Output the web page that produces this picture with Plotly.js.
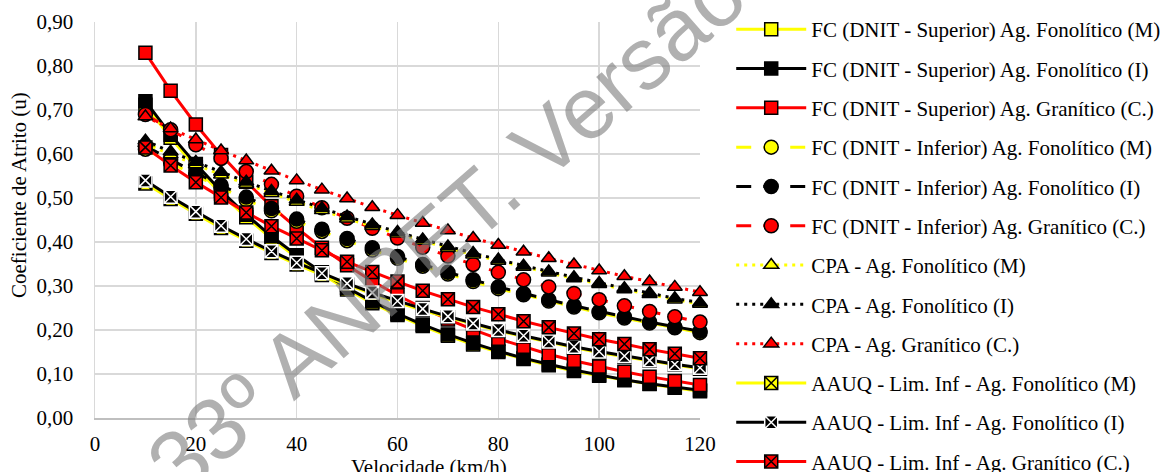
<!DOCTYPE html>
<html><head><meta charset="utf-8">
<script src="https://cdn.plot.ly/plotly-3.0.1.min.js"></script>
<style>body{margin:0;background:#fff}#chart{width:1170px;height:472px}</style>
</head><body><div id="chart"></div>
<script>
const velocidade = [10,15,20,25,30,35,40,45,50,55,60,65,70,75,80,85,90,95,100,105,110,115,120];

const supFonoM  = [0.712,0.637,0.570,0.510,0.456,0.408,0.365,0.327,0.292,0.261,0.234,0.209,0.187,0.167,0.150,0.134,0.120,0.107,0.096,0.086,0.077,0.069,0.061];
const supFonoI  = [0.720,0.644,0.577,0.516,0.462,0.413,0.370,0.331,0.296,0.265,0.237,0.212,0.190,0.170,0.152,0.136,0.122,0.109,0.098,0.087,0.078,0.070,0.063];
const supGranC  = [0.830,0.744,0.667,0.598,0.537,0.481,0.432,0.387,0.347,0.311,0.279,0.250,0.224,0.201,0.180,0.162,0.145,0.130,0.117,0.105,0.094,0.084,0.075];
const infFonoM  = [0.611,0.580,0.551,0.523,0.496,0.471,0.447,0.424,0.403,0.382,0.363,0.345,0.327,0.310,0.294,0.280,0.266,0.252,0.239,0.227,0.216,0.205,0.194];
const infFonoI  = [0.618,0.587,0.557,0.529,0.502,0.476,0.452,0.429,0.408,0.387,0.367,0.349,0.331,0.314,0.298,0.283,0.269,0.255,0.242,0.230,0.218,0.207,0.197];
const infGranC  = [0.690,0.655,0.621,0.590,0.560,0.531,0.504,0.478,0.454,0.431,0.409,0.388,0.368,0.349,0.331,0.314,0.298,0.283,0.269,0.255,0.242,0.230,0.218];
const cpaFonoM  = [0.624,0.599,0.576,0.553,0.532,0.511,0.491,0.472,0.453,0.436,0.419,0.402,0.386,0.371,0.357,0.343,0.330,0.317,0.304,0.292,0.281,0.269,0.259];
const cpaFonoI  = [0.630,0.605,0.582,0.559,0.537,0.516,0.496,0.477,0.458,0.440,0.423,0.406,0.390,0.375,0.360,0.346,0.333,0.320,0.307,0.295,0.284,0.272,0.262];
const cpaGranC  = [0.685,0.658,0.633,0.608,0.585,0.562,0.540,0.519,0.499,0.479,0.461,0.443,0.426,0.409,0.393,0.378,0.363,0.349,0.335,0.322,0.310,0.298,0.286];
const aauqFonoM = [0.533,0.498,0.464,0.432,0.403,0.375,0.349,0.325,0.303,0.282,0.263,0.245,0.229,0.213,0.198,0.185,0.172,0.160,0.149,0.139,0.130,0.121,0.112];
const aauqFonoI = [0.540,0.503,0.469,0.437,0.407,0.379,0.353,0.329,0.306,0.285,0.266,0.248,0.231,0.215,0.200,0.187,0.174,0.162,0.151,0.141,0.131,0.122,0.114];
const aauqGranC = [0.615,0.574,0.536,0.501,0.467,0.436,0.408,0.381,0.355,0.332,0.310,0.289,0.270,0.252,0.236,0.220,0.206,0.192,0.179,0.168,0.156,0.146,0.136];

const seriesNames = [
  "FC (DNIT - Superior) Ag. Fonolítico (M)",
  "FC (DNIT - Superior) Ag. Fonolítico (I)",
  "FC (DNIT - Superior) Ag. Granítico (C.)",
  "FC (DNIT - Inferior) Ag. Fonolítico (M)",
  "FC (DNIT - Inferior) Ag. Fonolítico (I)",
  "FC (DNIT - Inferior) Ag. Granítico (C.)",
  "CPA - Ag. Fonolítico (M)",
  "CPA - Ag. Fonolítico (I)",
  "CPA - Ag. Granítico (C.)",
  "AAUQ - Lim. Inf - Ag. Fonolítico (M)",
  "AAUQ - Lim. Inf - Ag. Fonolítico (I)",
  "AAUQ - Lim. Inf - Ag. Granítico (C.)"
];
const seriesValues = [supFonoM, supFonoI, supGranC, infFonoM, infFonoI, infGranC,
                      cpaFonoM, cpaFonoI, cpaGranC, aauqFonoM, aauqFonoI, aauqGranC];

const Y = '#ffff00', K = '#000000', R = '#ff0000';
const styles = [
  {c:Y, dash:'solid', sym:'square', size:13, lc:K},
  {c:K, dash:'solid', sym:'square', size:13, lc:K},
  {c:R, dash:'solid', sym:'square', size:13, lc:K},
  {c:Y, dash:'15px,12px', sym:'circle', size:14, lc:K},
  {c:K, dash:'15px,12px', sym:'circle', size:14, lc:K},
  {c:R, dash:'15px,12px', sym:'circle', size:14, lc:K},
  {c:Y, dash:'3px,5px', sym:'triangle-up', size:13, lc:K},
  {c:K, dash:'3px,5px', sym:'triangle-up', size:13, lc:K},
  {c:R, dash:'3px,5px', sym:'triangle-up', size:13, lc:K},
  {c:Y, dash:'solid', sym:'square-x', size:13, lc:K},
  {c:K, dash:'solid', sym:'square-x', size:13, lc:'#ffffff'},
  {c:R, dash:'solid', sym:'square-x', size:13, lc:K}
];

const traces = seriesValues.map((vals, i) => ({
  type: 'scatter', mode: 'lines+markers',
  x: velocidade, y: vals, name: seriesNames[i],
  legendgroup: 'g' + i,
  line: {color: styles[i].c, width: 3, dash: styles[i].dash},
  marker: {symbol: styles[i].sym, size: styles[i].size, color: styles[i].c,
           line: {color: styles[i].lc, width: 1.5}},
  cliponaxis: false
}));

const serif = '"Liberation Serif", "Times New Roman", "Nimbus Roman", "DejaVu Serif", serif';
const layout = {
  width: 1170, height: 472,
  margin: {l: 95, r: 470, t: 22, b: 54, autoexpand: false},
  paper_bgcolor: '#ffffff', plot_bgcolor: '#ffffff',
  separators: ',.',
  font: {family: serif, size: 21, color: '#000'},
  showlegend: true,
  legend: {x: 1.0516, y: 1.0326, xanchor: 'left', yanchor: 'top',
           font: {family: serif, size: 21, color: '#000'},
           itemwidth: 70, tracegroupgap: 9, maxheight: 1, bgcolor: 'rgba(0,0,0,0)'},
  xaxis: {range: [0, 120], dtick: 20, tick0: 0, showgrid: true, gridcolor: '#d9d9d9', gridwidth: 1.5,
          zeroline: false, showline: true, linecolor: '#bfbfbf', linewidth: 1.5, automargin: false,
          ticks: '', ticklabelstandoff: 6, tickfont: {family: serif, size: 21, color: '#000'}},
  yaxis: {range: [0, 0.9], dtick: 0.1, tick0: 0, tickformat: '.2f', showgrid: true, gridcolor: '#d9d9d9', gridwidth: 1.5,
          zeroline: false, showline: true, linecolor: '#d9d9d9', linewidth: 1.5, automargin: false,
          ticks: '', ticklabelstandoff: 16, tickfont: {family: serif, size: 21, color: '#000'}},
  annotations: [
    {text: 'Coeficiente de Atrito (u)', xref: 'paper', yref: 'paper',
     x: (19 - 95) / 605, y: (418 - 195) / 396, xanchor: 'center', yanchor: 'middle',
     textangle: -90, showarrow: false, font: {family: serif, size: 21, color: '#000'}},
    {text: 'Velocidade (km/h)', xref: 'paper', yref: 'paper',
     x: (429 - 95) / 605, y: (418 - 467) / 396, xanchor: 'center', yanchor: 'middle',
     showarrow: false, font: {family: serif, size: 21, color: '#000'}},
    {text: '33º ANPET. Versão', xref: 'x', yref: 'y', x: 69.7, y: 0.431,
     xanchor: 'center', yanchor: 'middle', textangle: -41, showarrow: false,
     font: {family: '"Liberation Sans", Arial, sans-serif', size: 88, color: 'rgba(128,128,128,0.62)'}}
  ]
};

Plotly.newPlot('chart', traces, layout, {staticPlot: true, displayModeBar: false});
</script>
</body></html>
